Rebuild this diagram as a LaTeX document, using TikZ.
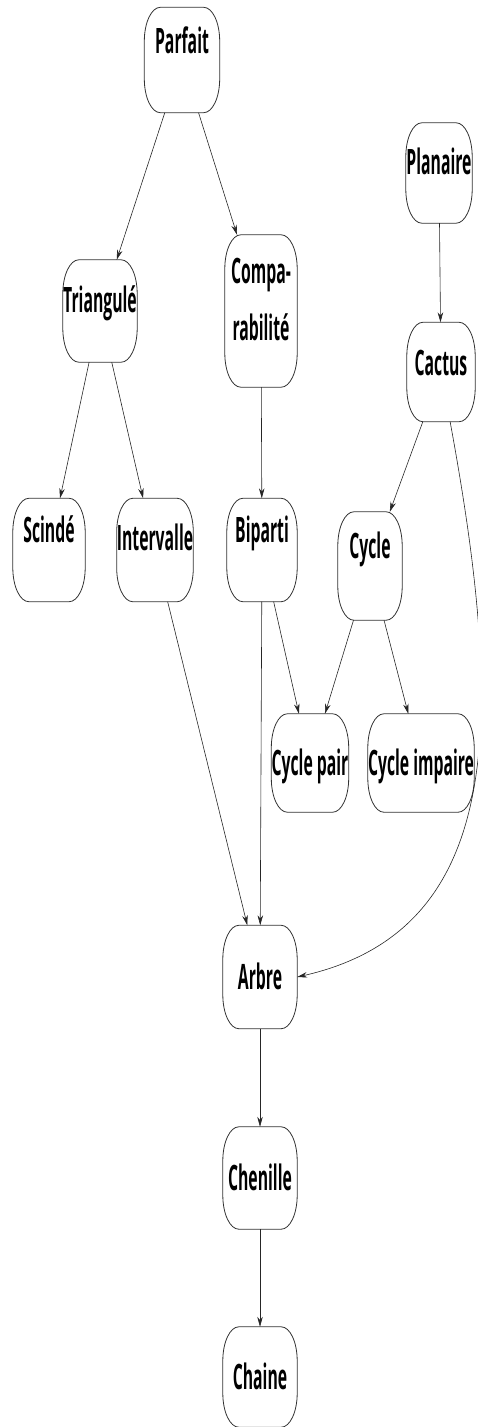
\documentclass[tikz,border=0pt]{standalone}
\usepackage{fontspec}
\setmainfont{Open Sans}[FakeStretch=0.45]
\usetikzlibrary{calc,arrows.meta}
\def\rx{16}
\def\ry{34}

\tikzset{
  box/.style={rectangle, inner sep=0pt, minimum width=74pt, minimum height=102pt,
    font=\bfseries\fontsize{35}{57}\selectfont, text height=25pt, text depth=#1},
  box/.default=0pt,
  rim/.style={line width=0.8pt, draw=black!80},
  arr/.style={line width=0.6pt, draw=black!85, -{Stealth[length=10pt,width=5.5pt]}},
}

\begin{document}
\begin{tikzpicture}[x=1pt,y=1pt]
\useasboundingbox (0,0) rectangle (477,-1427);

% nodes
\node[box=38pt, minimum width=75pt, minimum height=105pt] (parfait) at (182,-60) {Parfait};
\node[box=22pt, minimum width=66pt, minimum height=100pt] (planaire) at (439,-173) {Planaire};
\node[box=22pt] (triangule) at (100,-311) {Triangulé};
\node[box=24pt, minimum width=72pt, minimum height=152pt, text height=82pt, align=center] (compa) at (261,-311) {Compa-\\rabilité};
\node[box=18pt, minimum width=68pt, minimum height=99pt] (cactus) at (441,-372) {Cactus};
\node[box=40pt, minimum width=72pt, minimum height=103pt] (scinde) at (49,-550) {Scindé};
\node[box=24pt, minimum height=103pt] (intervalle) at (155,-550) {Intervalle};
\node[box=40pt, minimum width=70pt, minimum height=103pt] (biparti) at (262,-550) {Biparti};
\node[box=40pt, minimum width=64pt, minimum height=108pt] (cycle) at (370,-566) {Cycle};
\node[box, minimum width=77pt, minimum height=98pt] (cyclepair) at (310,-763) {Cycle pair};
\node[box, minimum width=93pt, minimum height=98pt] (cycleimp) at (421,-763) {Cycle impaire};
\node[box, minimum height=103pt] (arbre) at (260,-977) {Arbre};
\node[box] (chenille) at (260,-1178) {Chenille};
\node[box, minimum height=100pt] (chaine) at (260,-1377) {Chaine};

% rounded outlines
\foreach \n in {parfait,planaire,triangule,compa,cactus,scinde,intervalle,biparti,cycle,cyclepair,cycleimp,arbre,chenille,chaine}{
  \draw[rim] ($(\n.north west)+(\rx,0)$) -- ($(\n.north east)+(-\rx,0)$)
    arc[start angle=90, end angle=0, x radius=\rx, y radius=\ry]
    -- ($(\n.south east)+(0,\ry)$)
    arc[start angle=0, end angle=-90, x radius=\rx, y radius=\ry]
    -- ($(\n.south west)+(\rx,0)$)
    arc[start angle=-90, end angle=-180, x radius=\rx, y radius=\ry]
    -- ($(\n.north west)+(0,-\ry)$)
    arc[start angle=180, end angle=90, x radius=\rx, y radius=\ry]
    -- cycle;
}

% edges
\draw[arr] (parfait) -- (triangule);
\draw[arr] (parfait) -- (compa);
\draw[arr] (planaire) -- (cactus);
\draw[arr] (triangule) -- (scinde);
\draw[arr] (triangule) -- (intervalle);
\draw[arr] (compa) -- (biparti);
\draw[arr] (cactus) -- (cycle);
\draw[arr] (biparti) -- (cyclepair);
\draw[arr] (cycle) -- (cyclepair);
\draw[arr] (cycle) -- (cycleimp);
\draw[arr] (intervalle) -- (arbre);
\draw[arr] (biparti) -- (arbre);
\draw[arr] (cactus) .. controls (505,-720) and (505,-930) .. (arbre.east);
\draw[arr] (arbre) -- (chenille);
\draw[arr] (chenille) -- (chaine);

\end{tikzpicture}
\end{document}
